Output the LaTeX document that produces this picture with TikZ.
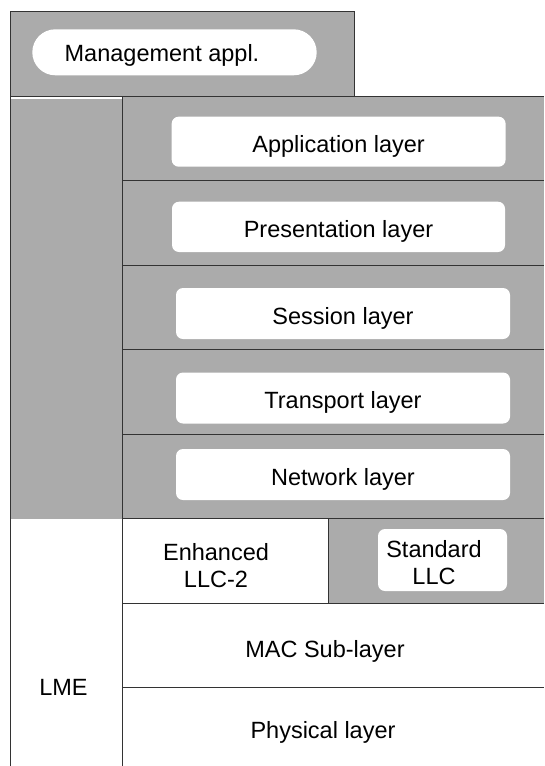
\documentclass[tikz,border=0pt]{standalone}
\usepackage{fontspec}
\setmainfont{Liberation Sans}
\definecolor{panelgray}{HTML}{ABABAB}
\definecolor{rulegray}{HTML}{333333}
\tikzset{
  frame/.style={draw=rulegray, line width=1pt},
  layerbox/.style={fill=white, rounded corners=7pt, inner sep=0pt, align=center,
                   text height=21.8pt, text depth=0pt},
  lbl/.style={inner sep=0pt, align=center},
}
\begin{document}
\begin{tikzpicture}[x=1pt, y=-1pt, font=\fontsize{23.5}{27}\selectfont]
\useasboundingbox (0,0) rectangle (544,766);

% grey panels
\fill[panelgray] (10.3,11.7) rectangle (354.3,96.7);      % management block
\fill[panelgray] (10.3,98.5) rectangle (122.7,518.5);     % LME column, upper part
\fill[panelgray] (122.7,96.7) rectangle (544,518.5);      % layers 3-7
\fill[panelgray] (328,518.5) rectangle (544,603);         % standard LLC cell

% rules
\draw[frame] (10.3,96.7) -- (10.3,11.7) -- (354.3,11.7) -- (354.3,96.7) -- (10.3,96.7);
\draw[white, line width=1.2pt] (10.8,98.1) -- (122.2,98.1);
\draw[frame] (10.3,96.7) -- (10.3,766);
\draw[frame] (122.7,96.7) -- (122.7,766);
\draw[frame] (122.7,96.7) -- (544,96.7);
\foreach \yy in {180.3,265.7,349.3,434,518.5,603,687}
  \draw[frame] (122.7,\yy) -- (544,\yy);
\draw[frame] (328,518.5) -- (328,603);

% management application
\node[layerbox, rounded corners=23pt, minimum width=284.4pt, minimum height=46pt] (mgmt) at (174.5,52.3) {};
\node[lbl] (mgmtlabel) at (162,55) {Management appl.};

% upper layers
\node[layerbox, minimum width=333.9pt, minimum height=50pt] (app)   at (338.65,141.7) {Application layer};
\node[layerbox, minimum width=333pt,   minimum height=50.3pt] (pres) at (338.5,226.85) {Presentation layer};
\node[layerbox, minimum width=334pt,   minimum height=51pt] (sess)   at (343,313.5) {Session layer};
\node[layerbox, minimum width=334pt,   minimum height=51pt] (trans)  at (343,398) {Transport layer};
\node[layerbox, minimum width=334pt,   minimum height=51pt] (net)    at (343,474.5) {Network layer};

% LLC sub-layer
\node[lbl] (ellc) at (216,566) {Enhanced\\LLC-2};
\node[layerbox, text height=0pt, minimum width=129pt, minimum height=62pt] (sllc) at (442.5,560) {};
\node[lbl] (sllclabel) at (434,563) {Standard\\LLC};

% lower layers
\node[lbl] (mac)  at (325,651) {MAC Sub-layer};
\node[lbl] (phy)  at (323,732) {Physical layer};
\node[lbl] (lme)  at (63.5,687) {LME};
\end{tikzpicture}
\end{document}
